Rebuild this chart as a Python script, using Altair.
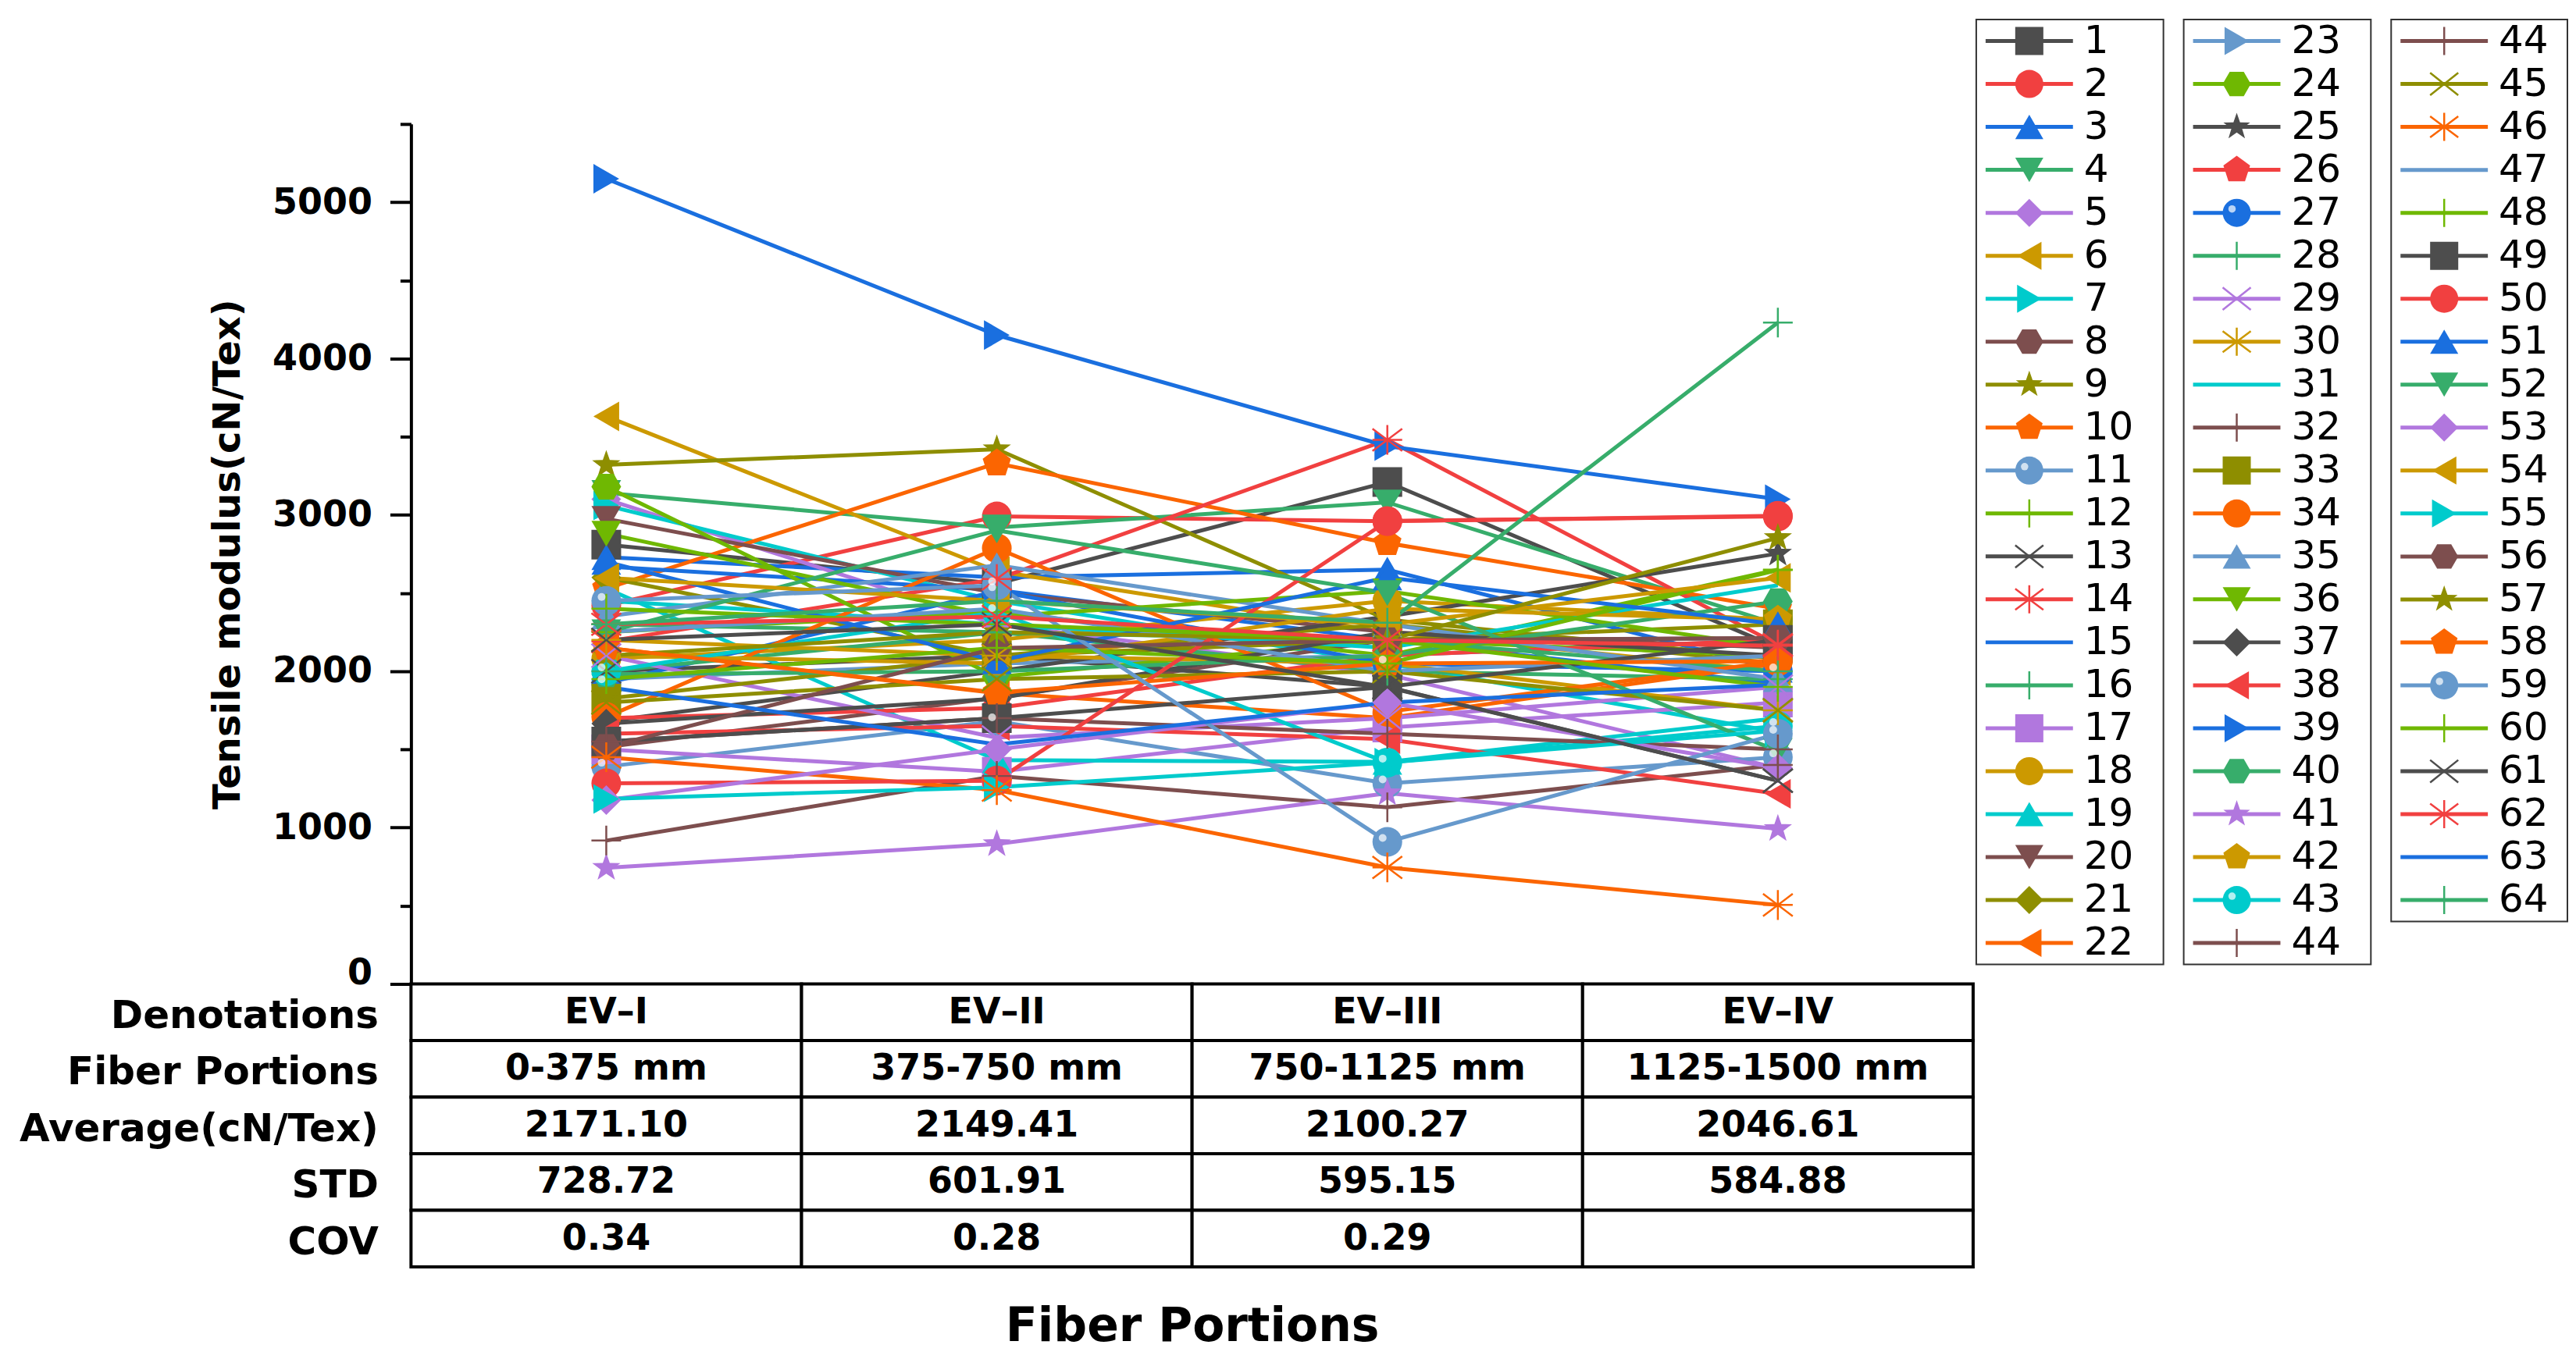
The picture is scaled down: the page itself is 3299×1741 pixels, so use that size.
import altair as alt
import pandas as pd

# ---- data -------------------------------------------------------------
portions = ["EV–I", "EV–II", "EV–III", "EV–IV"]
series = [str(i) for i in range(1, 65)]

# tensile modulus (cN/Tex) per series
ev1 = [2810, 2420, 2730, 3140, 3100, 3630, 3060, 1515, 3320, 2530,
       1390, 2250, 2000, 2190, 2670, 2300, 1500, 2080, 2530, 2975,
       2600, 2150, 1950, 3180, 1680, 1700, 1924, 2000, 2100, 2200,
       2450, 917, 1825, 1707, 2350, 2880, 1665, 1600, 5150, 1981,
       743, 2100, 2000, 1550, 1800, 1450, 2250, 1950, 1550, 1283,
       2700, 2250, 1176, 2597, 1183, 1515, 2100, 2150, 2450, 2400,
       2200, 2300, 1900, 2300]
ev2 = [2560, 2990, 2600, 2920, 2300, 2640, 2450, 1830, 3420, 3330,
       1680, 2380, 2100, 2590, 2520, 2250, 1357, 2200, 1432, 2500,
       2100, 1860, 2050, 1964, 2000, 1765, 2512, 2248, 1575, 2100,
       2300, 1330, 2098, 2787, 2678, 2350, 1825, 1650, 4150, 2000,
       895, 2050, 2379, 1700, 1950, 1240, 2400, 2150, 1700, 1300,
       2064, 2900, 1500, 2450, 1258, 2148, 2250, 1864, 2550, 2300,
       2300, 2350, 1532, 2450]
ev3 = [3210, 2960, 2650, 3080, 1980, 2250, 2050, 2200, 2330, 2820,
       1283, 2100, 1900, 3480, 2200, 2000, 1640, 2450, 1420, 2250,
       2300, 1700, 2100, 2200, 2350, 2100, 2050, 2200, 1700, 2050,
       2150, 1130, 2200, 1740, 2300, 2512, 2250, 1565, 3440, 2100,
       1220, 2400, 1416, 1600, 2000, 745, 2000, 2050, 1900, 2960,
       2600, 2500, 1800, 2300, 1416, 2198, 2200, 2050, 909, 2200,
       1898, 2200, 1800, 2310]
ev4 = [2150, 2990, 2010, 2300, 1380, 2000, 1610, 2210, 2080, 2400,
       1450, 2650, 1300, 2170, 1920, 1950, 1800, 2330, 1700, 2150,
       2050, 2050, 2200, 2100, 2753, 2200, 2000, 2000, 1900, 1750,
       2550, 1400, 2300, 2064, 1950, 2150, 2100, 1216, 3100, 2447,
       992, 2330, 1650, 1500, 1750, 505, 2100, 2647, 2200, 2994,
       2300, 1490, 1382, 2597, 1620, 2213, 2853, 2064, 1600, 1900,
       1300, 2163, 1914, 4230]

table_rows = ["Denotations", "Fiber Portions", "Average(cN/Tex)", "STD", "COV"]
fiber_portions = ["0-375 mm", "375-750 mm", "750-1125 mm", "1125-1500 mm"]
averages = ["2171.10", "2149.41", "2100.27", "2046.61"]
stds = ["728.72", "601.91", "595.15", "584.88"]
covs = ["0.34", "0.28", "0.29", ""]

# legend is split into three boxes; "44" appears twice in the original
legend_columns = [series[0:22], series[22:44], series[43:64]]

# ---- style cycles (Origin-like) ---------------------------------------
palette = ["#4D4D4D", "#F14040", "#1A6FDF", "#37AD6B", "#B177DE", "#CC9900",
           "#00CBCC", "#7D4E4E", "#8E8E00", "#FB6501", "#6699CC", "#6FB802"]
HEX = "M-1,0L-0.5,-0.87L0.5,-0.87L1,0L0.5,0.87L-0.5,0.87Z"
STAR = ("M0,-1L0.235,-0.324L0.951,-0.309L0.38,0.124L0.588,0.809L0,0.4"
        "L-0.588,0.809L-0.38,0.124L-0.951,-0.309L-0.235,-0.324Z")
PENT = "M0,-1L0.951,-0.309L0.588,0.809L-0.588,0.809L-0.951,-0.309Z"
PLUS = "M0,-1L0,1M-1,0L1,0"
CROSS = "M-1,-0.8L1,0.8M-1,0.8L1,-0.8"
ASTER = "M0,-1L0,1M-1,0L1,0M-1,-0.75L1,0.75M-1,0.75L1,-0.75"
symbols = ["square", "circle", "triangle-up", "triangle-down", "diamond",
           "triangle-left", "triangle-right", HEX, STAR, PENT, "circle",
           PLUS, CROSS, ASTER, None, PLUS]
stroked_idx = {11, 12, 13, 15}

series_colors = [palette[i % 12] for i in range(64)]
series_shapes = [symbols[i % 16] or "circle" for i in range(64)]
filled_series = [s for i, s in enumerate(series) if i % 16 <= 10]
stroked_series = [s for i, s in enumerate(series) if i % 16 in stroked_idx]
sphere_series = [s for i, s in enumerate(series) if i % 16 == 10]

FONT = "DejaVu Sans"
MSIZE = 1450
LW = 5

long = pd.DataFrame(
    [{"series": s, "portion": p, "value": v}
     for s, a, b, c, d in zip(series, ev1, ev2, ev3, ev4)
     for p, v in zip(portions, [a, b, c, d])]
)

color = alt.Color("series:N", scale=alt.Scale(domain=series, range=series_colors), legend=None)
shape = alt.Shape("series:N", scale=alt.Scale(domain=series, range=series_shapes), legend=None)

# ---- main plot --------------------------------------------------------
x_enc = alt.X("portion:N", sort=portions,
              scale=alt.Scale(type="point", padding=0.5), axis=None)
y_enc = alt.Y(
    "value:Q",
    scale=alt.Scale(domain=[0, 5500], nice=False),
    axis=alt.Axis(
        title="Tensile modulus(cN/Tex)", grid=False,
        values=list(range(0, 5501, 500)), format="d",
        labelExpr="datum.value % 1000 === 0 ? datum.label : ''",
        domainColor="black", domainWidth=4, tickColor="black", tickWidth=4,
        tickSize={"condition": {"test": "datum.value % 1000 === 0", "value": 27}, "value": 14},
        labelBaseline={"condition": {"test": "datum.value === 0", "value": "alphabetic"},
                       "value": "middle"},
        labelFontSize=46, labelFontWeight="bold", labelColor="black", labelPadding=23,
        titleFontSize=48, titleFontWeight="bold", titleColor="black", titlePadding=32,
    ),
)

base = alt.Chart(long)
lines = base.mark_line(strokeWidth=LW).encode(x=x_enc, y=y_enc, color=color, detail="series:N")
pts_fill = base.transform_filter(
    alt.FieldOneOfPredicate(field="series", oneOf=filled_series)
).mark_point(filled=True, opacity=1, size=MSIZE).encode(x=x_enc, y=y_enc, color=color, shape=shape)
pts_stroke = base.transform_filter(
    alt.FieldOneOfPredicate(field="series", oneOf=stroked_series)
).mark_point(filled=False, opacity=1, size=MSIZE, strokeWidth=2.5).encode(
    x=x_enc, y=y_enc, color=color, shape=shape)
shine = base.transform_filter(
    alt.FieldOneOfPredicate(field="series", oneOf=sphere_series)
).mark_circle(color="white", opacity=0.7, size=100, xOffset=-6, yOffset=-5).encode(x=x_enc, y=y_enc)

plot = alt.layer(lines, pts_fill, pts_stroke, shine).properties(width=2003, height=1103)

# empty band above the plot, so the legend can start higher than the axis
spacer = alt.Chart(pd.DataFrame({"v": [0]})).mark_text(text="").encode(
    x=alt.value(0), y=alt.value(0)
).properties(width=2003, height=134)

# ---- table under the plot ---------------------------------------------
cells = pd.DataFrame(
    [{"row": r, "portion": p, "text": t}
     for r, vals in zip(table_rows, [portions, fiber_portions, averages, stds, covs])
     for p, t in zip(portions, vals)]
)
tx = alt.X("portion:N", sort=portions,
           scale=alt.Scale(paddingInner=0, paddingOuter=0),
           axis=alt.Axis(labels=False, ticks=False, domain=False, title="Fiber Portions",
                         titleFontSize=60, titleFontWeight="bold", titleColor="black",
                         titlePadding=48))
ty = alt.Y("row:N", sort=table_rows,
           scale=alt.Scale(paddingInner=0, paddingOuter=0),
           axis=alt.Axis(title=None, ticks=False, domain=False, labelFontSize=50,
                         labelFontWeight="bold", labelColor="black", labelPadding=42,
                         labelOffset=5, labelLimit=0))
table = alt.layer(
    alt.Chart(cells).mark_rect(fill="white", stroke="black", strokeWidth=4).encode(x=tx, y=ty),
    alt.Chart(cells).mark_text(fontSize=46, fontWeight="bold", color="black").encode(
        x=tx, y=ty, text="text:N"),
).properties(width=2003, height=363)

left = alt.vconcat(spacer, plot, table, spacing=0, bounds="flush")

# ---- legend (three boxes) ---------------------------------------------
legend_df = pd.DataFrame(
    [{"box": k, "row": i, "series": s}
     for k, col in enumerate(legend_columns)
     for i, s in enumerate(col)]
)


def legend_box(k, w, h):
    b = alt.Chart(legend_df).transform_filter(alt.datum.box == k)
    ly = alt.Y("row:O", axis=None, scale=alt.Scale(type="point", padding=0.5))
    seg = b.mark_rule(strokeWidth=LW).encode(
        x=alt.value(12), x2=alt.value(124), y=ly, color=color)
    pf = b.transform_filter(
        alt.FieldOneOfPredicate(field="series", oneOf=filled_series)
    ).mark_point(filled=True, opacity=1, size=1300).encode(
        x=alt.value(68), y=ly, color=color, shape=shape)
    ps = b.transform_filter(
        alt.FieldOneOfPredicate(field="series", oneOf=stroked_series)
    ).mark_point(filled=False, opacity=1, size=1300, strokeWidth=2.5).encode(
        x=alt.value(68), y=ly, color=color, shape=shape)
    sh = b.transform_filter(
        alt.FieldOneOfPredicate(field="series", oneOf=sphere_series)
    ).mark_circle(color="white", opacity=0.7, size=90, xOffset=-6, yOffset=-5).encode(
        x=alt.value(68), y=ly)
    lab = b.mark_text(align="left", baseline="middle", fontSize=50, color="black").encode(
        x=alt.value(138), y=ly, text="series:N")
    return alt.layer(seg, pf, ps, sh, lab).properties(
        width=w, height=h, view=alt.ViewBackground(stroke="#333333", strokeWidth=2))


legend = alt.hconcat(
    legend_box(0, 240, 1212), legend_box(1, 240, 1212), legend_box(2, 226, 1157),
    spacing=24,
)

chart = (
    alt.hconcat(left, legend, spacing=0)
    .properties(padding={"left": 15, "top": 9, "right": 2, "bottom": 2})
    .configure(font=FONT)
    .configure_view(stroke="transparent")
)

chart.save("out.html", embed_options={"renderer": "svg", "actions": False})
